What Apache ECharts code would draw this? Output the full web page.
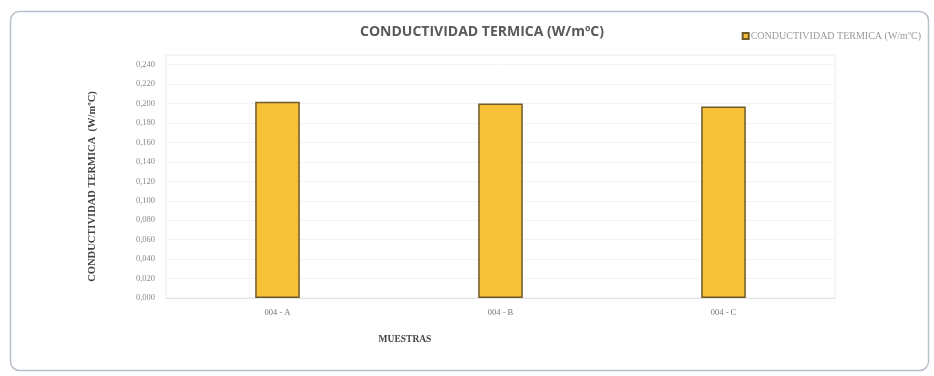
<!DOCTYPE html>
<html>
<head>
<meta charset="utf-8">
<style>
  html, body { margin: 0; padding: 0; background: #ffffff; }
  #chart { width: 934px; height: 376px; }
</style>
<script src="https://cdn.jsdelivr.net/npm/echarts@6/dist/echarts.min.js"></script>
</head>
<body>
<div id="chart"></div>
<script>
// Muestras y conductividad térmica medida (W/mºC)
const categories = ['004 - A', '004 - B', '004 - C'];
const conductividad = [0.202, 0.200, 0.197];
const seriesName = 'CONDUCTIVIDAD TERMICA (W/m\u00baC)';

const chart = echarts.init(document.getElementById('chart'));

const serif = '"Liberation Serif", "DejaVu Serif", serif';

chart.setOption({
  backgroundColor: '#ffffff',
  animation: false,
  graphic: [{
    type: 'rect',
    left: 8, top: 9,
    shape: { width: 918, height: 359, r: 9 },
    style: { fill: 'none', stroke: '#b9c1ca', lineWidth: 1.5 },
    silent: true
  }],
  title: [{
    text: 'CONDUCTIVIDAD TERMICA (W/m\u00baC)',
    left: 477, top: 20, textAlign: 'center',
    textStyle: { fontFamily: '"Open Sans", sans-serif', fontWeight: 'bold', fontSize: 14, color: '#595959' }
  }, {
    text: 'MUESTRAS',
    left: 400, top: 330, textAlign: 'center',
    textStyle: { fontFamily: serif, fontWeight: 'bold', fontSize: 9.5, color: '#444' }
  }],
  legend: {
    right: 8, top: 26,
    itemWidth: 6, itemHeight: 6, itemGap: 2,
    icon: 'rect',
    textStyle: { fontFamily: serif, fontSize: 10, color: '#9a9a9a', padding: [0, 0, 0, -3] },
    data: [seriesName]
  },
  grid: {
    left: 166, right: 99, top: 55, bottom: 78,
    show: true, borderColor: '#ececec', borderWidth: 1
  },
  xAxis: {
    type: 'category',
    data: categories,
    axisLine: { show: true, lineStyle: { color: '#e4e4e4' } },
    axisTick: { show: false },
    axisLabel: { fontFamily: serif, fontSize: 8.5, color: '#777', margin: 10 },
    splitLine: { show: false }
  },
  yAxis: {
    type: 'value',
    min: 0, max: 0.25, interval: 0.02,
    name: 'CONDUCTIVIDAD TERMICA  (W/m\u00baC)',
    nameLocation: 'middle',
    nameGap: 68,
    nameTextStyle: { fontFamily: serif, fontWeight: 'bold', fontSize: 10.5, color: '#444', padding: [0, 20, 0, 0] },
    axisLine: { show: false },
    axisTick: { show: false },
    axisLabel: {
      fontFamily: serif, fontSize: 8.5, color: '#8a8a8a', margin: 11,
      showMaxLabel: false,
      formatter: v => v.toFixed(3).replace('.', ',')
    },
    splitLine: { show: true, lineStyle: { color: '#f3f3f3' } }
  },
  series: [{
    name: seriesName,
    type: 'bar',
    data: conductividad,
    barWidth: '20%',
    itemStyle: { color: '#f6c136', borderColor: '#6f5a2c', borderWidth: 1.5 }
  }]
});
</script>
</body>
</html>
